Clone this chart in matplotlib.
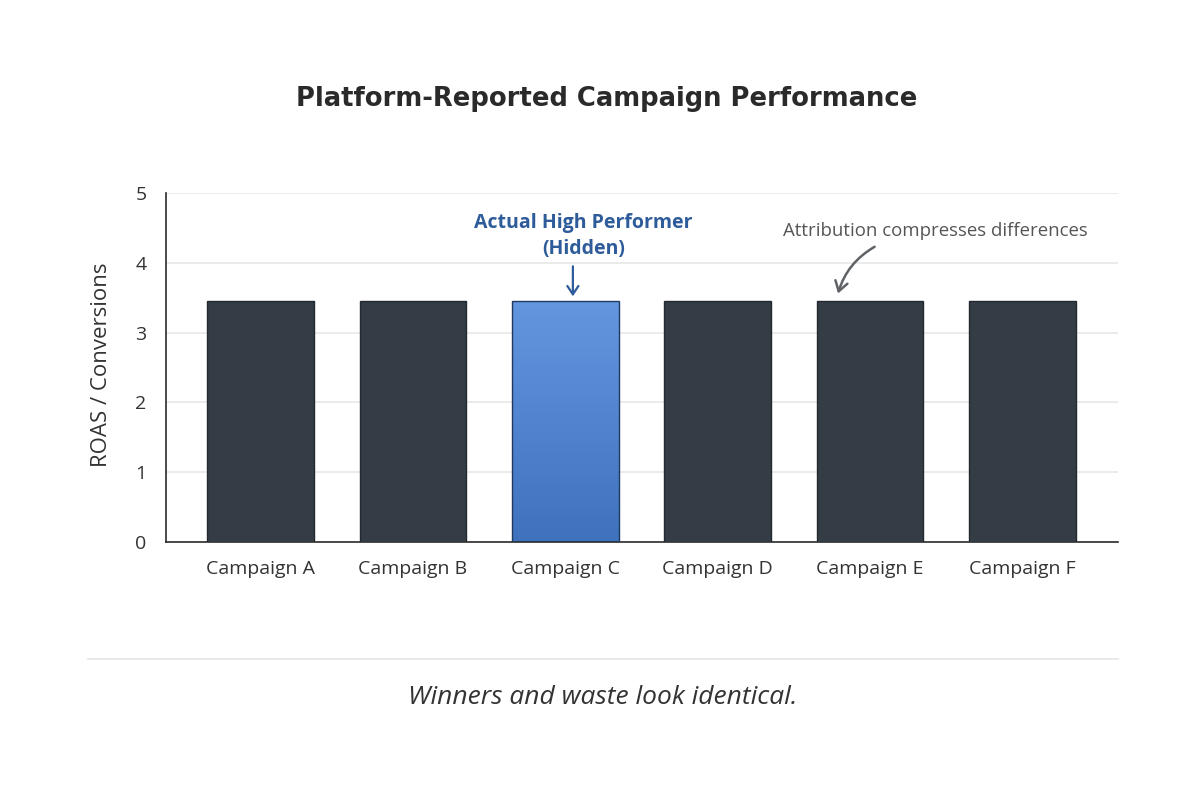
import numpy as np
import matplotlib
matplotlib.use("Agg")
import matplotlib.pyplot as plt
from matplotlib.lines import Line2D

campaigns = ["Campaign A", "Campaign B", "Campaign C", "Campaign D", "Campaign E", "Campaign F"]
values = [3.45, 3.45, 3.45, 3.45, 3.45, 3.45]
yticks = [0, 1, 2, 3, 4, 5]
highlight = "Campaign C"
title = "Platform-Reported Campaign Performance"
ylabel = "ROAS / Conversions"
note_blue = "Actual High Performer\n(Hidden)"
note_grey = "Attribution compresses differences"
footer = "Winners and waste look identical."

plt.rcParams["font.family"] = ["Open Sans", "DejaVu Sans"]
W, H = 1200, 800
fig = plt.figure(figsize=(W / 100, H / 100), dpi=100, facecolor="white")
ax = fig.add_axes([166 / W, 1 - 542 / H, (1118 - 166) / W, (542 - 193) / H])

x = np.arange(len(campaigns))
bars = ax.bar(x, values, width=0.70, color="#343c45", edgecolor="#23292f", linewidth=1, zorder=3)

i = campaigns.index(highlight)
b = bars[i]
b.set_facecolor("none")
b.set_edgecolor("#1f3a5f")
grad = np.linspace(0, 1, 256).reshape(-1, 1)
cmap = matplotlib.colors.LinearSegmentedColormap.from_list("b", ["#3f72bd", "#6496e0"])
im = ax.imshow(grad, extent=(b.get_x(), b.get_x() + b.get_width(), 0, b.get_height()),
               origin="lower", aspect="auto", cmap=cmap, zorder=2.5)
ax.set_xlim(-0.62, 5.627)
ax.set_ylim(0, 5)

ax.set_yticks(yticks)
ax.set_xticks(x, campaigns)
ax.grid(axis="y", color="#e8e8e8", linewidth=1.2, zorder=0)
ax.set_axisbelow(True)
ax.tick_params(axis="both", length=0, labelsize=14, labelcolor="#333333")
ax.tick_params(axis="x", pad=13)
ax.tick_params(axis="y", pad=14)
for s in ["top", "right"]:
    ax.spines[s].set_visible(False)
for s in ["left", "bottom"]:
    ax.spines[s].set_color("#2b2b2b")
    ax.spines[s].set_linewidth(1.2)
ax.set_ylabel(ylabel, fontsize=16, color="#333333", labelpad=17, y=0.507)

fig.text(607 / W, 1 - 99 / H, title, ha="center", va="center", fontsize=18.6,
         fontweight="bold", family="DejaVu Sans", color="#2a2a2a")

ax.text(i + 0.12, 4.39, note_blue, ha="center", va="center",
        fontsize=14, fontweight="bold", color="#2e5c9a", linespacing=1.4)
ax.annotate("", xy=(i + 0.05, 3.52), xytext=(i + 0.05, 3.95),
            arrowprops=dict(arrowstyle="->,head_width=0.4,head_length=0.6", color="#2e5c9a", lw=1.6,
                            shrinkA=0, shrinkB=0))
ax.text(4.43, 4.45, note_grey, ha="center", va="center", fontsize=13.4, color="#555555")
ax.annotate("", xy=(3.79, 3.56), xytext=(4.03, 4.23),
            arrowprops=dict(arrowstyle="->,head_width=0.45,head_length=0.7", color="#5f6368", lw=1.8,
                            connectionstyle="arc3,rad=0.2", shrinkA=0, shrinkB=0))

fig.add_artist(Line2D([88 / W, 1118 / W], [1 - 659 / H] * 2, color="#e6e6e6", lw=1.2))
fig.text(603 / W, 1 - 697 / H, footer, ha="center", va="center", fontsize=19, style="italic", color="#333333")

fig.savefig("out.png", dpi=100, facecolor="white")
